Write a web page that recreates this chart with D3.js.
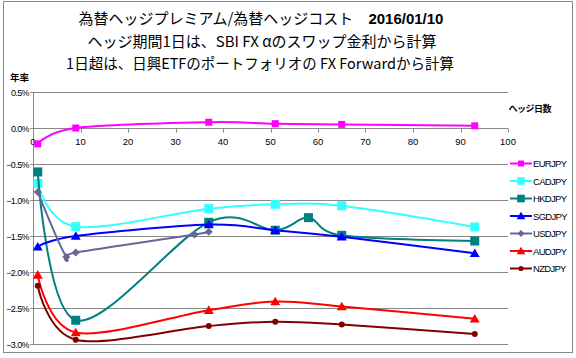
<!DOCTYPE html>
<html><head><meta charset="utf-8">
<script src="https://cdn.jsdelivr.net/npm/d3@7"></script>
<style>body{margin:0;background:#fff}svg{display:block}</style>
</head><body>
<script>
const seriesNames = ["EURJPY","CADJPY","HKDJPY","SGDJPY","USDJPY","AUDJPY","NZDJPY"];
const eurDays = [1,9,37,51,65,93];
const eurVals = [-0.22,0.0,0.08,0.06,0.05,0.03];
const cadDays = [1,9,37,51,65,93];
const cadVals = [-0.77,-1.37,-1.12,-1.06,-1.08,-1.375];
const hkdDays = [1,9,37,51,58,65,93];
const hkdVals = [-0.61,-2.67,-1.31,-1.42,-1.245,-1.49,-1.57];
const sgdDays = [1,9,37,51,65,93];
const sgdVals = [-1.65,-1.5,-1.34,-1.42,-1.51,-1.74];
const usdDays = [1,7,9,34,37];
const usdVals = [-0.89,-1.79,-1.73,-1.48,-1.44];
const audDays = [1,9,37,51,65,93];
const audVals = [-2.04,-2.84,-2.53,-2.41,-2.48,-2.65];
const nzdDays = [1,9,37,51,65,93];
const nzdVals = [-2.19,-2.94,-2.75,-2.69,-2.73,-2.86];
const xTicks = [0,10,20,30,40,50,60,70,80,90,100];
const yTicks = [0.5,0.0,-0.5,-1.0,-1.5,-2.0,-2.5,-3.0];

const styles = [
  {color:"#FF00FF", marker:"square", size:7},
  {color:"#33FFFF", marker:"square", size:9},
  {color:"#008080", marker:"square", size:9},
  {color:"#0000FF", marker:"triangle", size:8},
  {color:"#666699", marker:"diamond", size:8},
  {color:"#FF0000", marker:"triangle", size:8},
  {color:"#800000", marker:"circle", size:6}
];
const daysList = [eurDays,cadDays,hkdDays,sgdDays,usdDays,audDays,nzdDays];
const valsList = [eurVals,cadVals,hkdVals,sgdVals,usdVals,audVals,nzdVals];
const series = seriesNames.map((n,i)=>({name:n, pts:daysList[i].map((d,j)=>[d,valsList[i][j]]), ...styles[i]}));

const W=576,H=358;
const svg = d3.select("body").append("svg").attr("width",W).attr("height",H);
svg.append("rect").attr("x",3.5).attr("y",1.5).attr("width",569).attr("height",351)
  .attr("fill","#fff").attr("stroke","#888");

const x = d3.scaleLinear().domain([0,100]).range([33,508]);
const y = d3.scaleLinear().domain([-3,0.5]).range([344,92]);

// title
const tfont = "'Noto Sans CJK JP', sans-serif";
const t1 = svg.append("text").attr("x",261).attr("y",24).attr("text-anchor","middle")
  .attr("font-family",tfont).attr("font-size",15).attr("fill","#000");
t1.append("tspan").text("為替ヘッジプレミアム/為替ヘッジコスト　");
t1.append("tspan").attr("font-weight","bold").attr("font-family","'Liberation Sans', sans-serif").text("2016/01/10");
svg.append("text").attr("x",262).attr("y",47).attr("text-anchor","middle")
  .attr("font-family",tfont).attr("font-size",15).text("ヘッジ期間1日は、SBI FX αのスワップ金利から計算");
svg.append("text").attr("x",260).attr("y",69).attr("text-anchor","middle")
  .attr("font-family",tfont).attr("font-size",14.5).text("1日超は、日興ETFのポートフォリオの FX Forwardから計算");

svg.append("text").attr("x",10).attr("y",81).attr("font-family",tfont).attr("font-weight","bold")
  .attr("font-size",9.5).text("年率");
svg.append("text").attr("x",551).attr("y",112).attr("text-anchor","end").attr("font-family",tfont).attr("font-weight","bold")
  .attr("font-size",9).attr("letter-spacing",-0.5).text("ヘッジ日数");

// grid
svg.append("g").selectAll("line").data(yTicks).join("line")
  .attr("x1",30).attr("x2",508).attr("y1",d=>Math.round(y(d))+0.5).attr("y2",d=>Math.round(y(d))+0.5)
  .attr("stroke","#888").attr("stroke-width",1);
svg.append("line").attr("x1",33.5).attr("x2",33.5).attr("y1",y(0.5)).attr("y2",y(-3)+0.5)
  .attr("stroke","#888");
// y labels
svg.append("g").selectAll("text").data(yTicks).join("text")
  .attr("x",29).attr("y",d=>y(d)+3.5).attr("text-anchor","end")
  .attr("font-family","'Liberation Sans', sans-serif").attr("font-size",9).attr("letter-spacing",-0.6)
  .text(d=>d3.format(".1f")(d)+"%");
// x ticks at zero line
const x0 = Math.round(y(0))+0.5;
svg.append("g").selectAll("line").data(xTicks).join("line")
  .attr("x1",d=>Math.round(x(d))+0.5).attr("x2",d=>Math.round(x(d))+0.5).attr("y1",x0).attr("y2",x0+4)
  .attr("stroke","#888");
svg.append("g").selectAll("text").data(xTicks).join("text")
  .attr("x",d=>x(d)).attr("y",x0+16.5).attr("text-anchor","middle")
  .attr("font-family","'Liberation Sans', sans-serif").attr("font-size",9.5)
  .text(d=>d);

const line = d3.line().x(d=>x(d[0])).y(d=>y(d[1])).curve(d3.curveCardinal.tension(0));

function marker(g, type, size, color){
  if(type==="square"){
    g.append("rect").attr("x",-size/2).attr("y",-size/2).attr("width",size).attr("height",size).attr("fill",color);
  } else if(type==="triangle"){
    const h=size*0.95;
    g.append("path").attr("d",`M0,${-h/2-1}L${size/2+1},${h/2}L${-size/2-1},${h/2}Z`).attr("fill",color);
  } else if(type==="diamond"){
    const s=size/2;
    g.append("path").attr("d",`M0,${-s}L${s},0L0,${s}L${-s},0Z`).attr("fill",color);
  } else {
    g.append("circle").attr("r",size/2).attr("fill",color);
  }
}

series.forEach(s=>{
  const g = svg.append("g");
  g.append("path").datum(s.pts).attr("d",line).attr("fill","none").attr("stroke",s.color).attr("stroke-width",2);
  s.pts.forEach(p=>{
    const mg = g.append("g").attr("transform",`translate(${x(p[0])},${y(p[1])})`);
    marker(mg, s.marker, s.size, s.color);
  });
});

// legend
const lg = svg.append("g");
series.forEach((s,i)=>{
  const yy = 163.5 + i*17.5;
  lg.append("line").attr("x1",510).attr("x2",532).attr("y1",yy).attr("y2",yy).attr("stroke",s.color).attr("stroke-width",2);
  const mg = lg.append("g").attr("transform",`translate(521,${yy})`);
  marker(mg, s.marker, s.size*0.85, s.color);
  lg.append("text").attr("x",533).attr("y",yy+3.5).attr("font-family","'Liberation Sans', sans-serif")
    .attr("font-size",9.5).attr("letter-spacing",-0.7).text(s.name);
});
</script>
</body></html>
